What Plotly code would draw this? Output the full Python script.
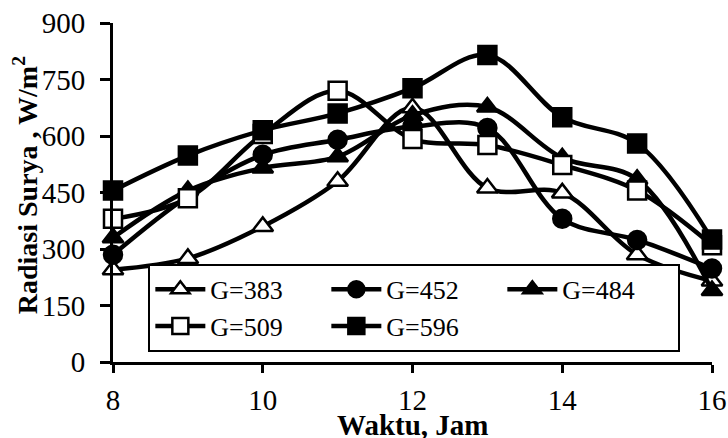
import plotly.graph_objects as go

jam = [8, 9, 10, 11, 12, 13, 14, 15, 16]
g383 = [245, 275, 360, 480, 675, 462, 449, 285, 215]
g452 = [285, 440, 550, 590, 625, 621, 380, 324, 248]
g484 = [330, 455, 515, 545, 655, 677, 542, 485, 190]
g509 = [380, 435, 605, 720, 592, 576, 523, 455, 310]
g596 = [455, 548, 615, 660, 727, 815, 650, 580, 325]

series = [
    ("G=383", g383, "triangle-up", "white"),
    ("G=452", g452, "circle", "black"),
    ("G=484", g484, "triangle-up", "black"),
    ("G=509", g509, "square", "white"),
    ("G=596", g596, "square", "black"),
]

FONT = "Liberation Serif"
fig = go.Figure()
for name, ys, sym, fill in series:
    fig.add_trace(go.Scatter(
        x=jam, y=ys, name=name, mode="lines+markers",
        line=dict(color="black", width=4.5, shape="spline", smoothing=1),
        marker=dict(symbol=sym, size=18, color=fill, line=dict(color="black", width=2.5)),
    ))

fig.update_layout(
    width=728, height=438,
    margin=dict(l=113, r=16, t=23, b=76, autoexpand=False),
    paper_bgcolor="white", plot_bgcolor="white",
    font=dict(family=FONT, size=29, color="black"),
    showlegend=True,
    legend=dict(
        orientation="h", x=0.059, y=0.03, xanchor="left", yanchor="bottom",
        bordercolor="black", borderwidth=2, bgcolor="white",
        font=dict(family=FONT, size=26), entrywidth=111, entrywidthmode="pixels",
        tracegroupgap=0, itemwidth=50,
    ),
    xaxis=dict(
        range=[8, 16], tickvals=[8, 10, 12, 14, 16], showgrid=False, zeroline=False,
        showline=True, linecolor="black", linewidth=3, automargin=False,
        ticks="outside", ticklen=8, tickwidth=3, tickcolor="black",
        tickfont=dict(family=FONT, size=29), ticklabelstandoff=2,
    ),
    yaxis=dict(
        range=[0, 900], tickvals=[0, 150, 300, 450, 600, 750, 900], showgrid=False, zeroline=False,
        showline=True, linecolor="black", linewidth=3, automargin=False,
        ticks="outside", ticklen=10, tickwidth=3, tickcolor="black",
        tickfont=dict(family=FONT, size=29), ticklabelstandoff=9,
    ),
    annotations=[
        dict(text="<b>Waktu, Jam</b>", xref="paper", yref="paper", x=0.5, y=-0.186,
             xanchor="center", yanchor="middle", showarrow=False,
             font=dict(family=FONT, size=29)),
        dict(text="<b>Radiasi Surya , W/m<sup>2</sup></b>", xref="paper", yref="paper",
             x=-0.146, y=0.52, xanchor="center", yanchor="middle", textangle=-90,
             showarrow=False, font=dict(family=FONT, size=28)),
    ],
)
fig.update_traces(cliponaxis=False)
fig.write_html(
    "out.html",
    config={"displayModeBar": False},
    post_script="document.body.style.margin='0';document.body.style.overflow='hidden';",
)
